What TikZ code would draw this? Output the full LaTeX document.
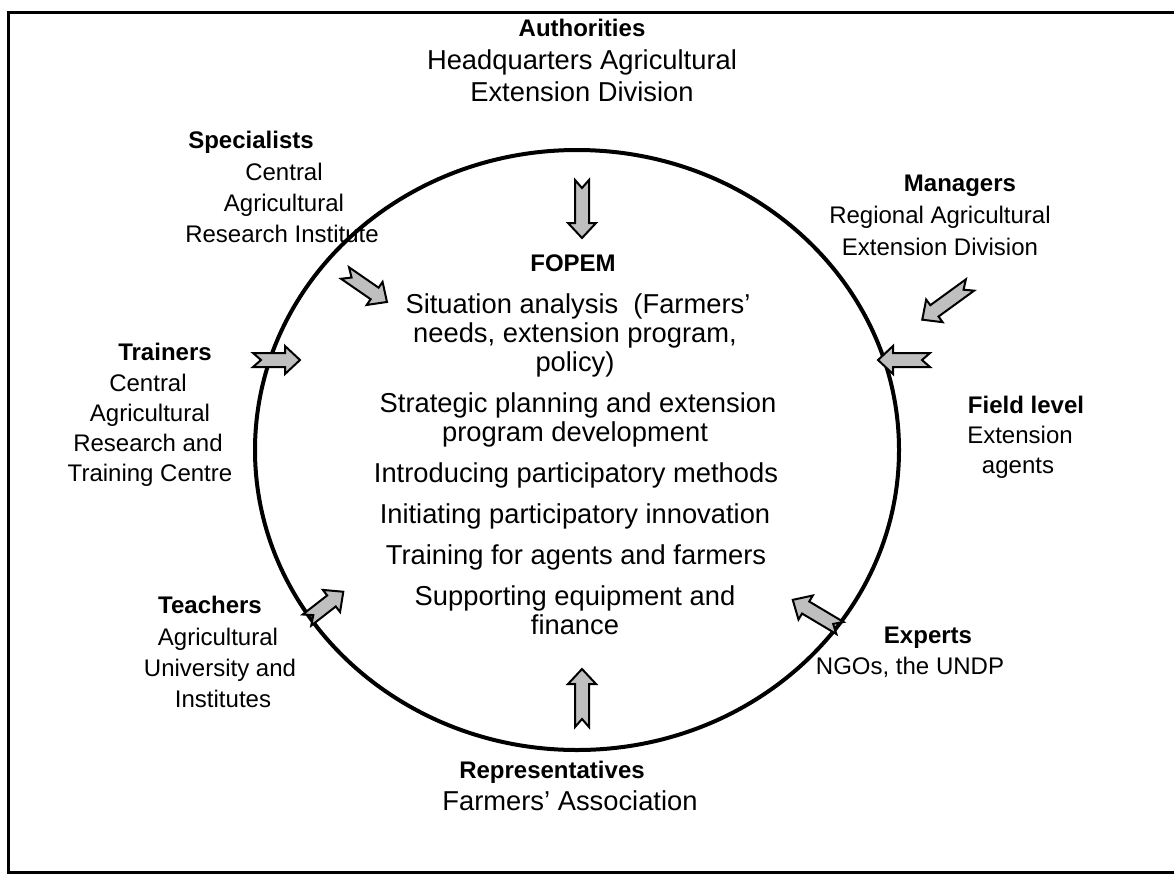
\documentclass[tikz,border=0pt]{standalone}
\usepackage{fontspec}
\setmainfont{Liberation Sans}
\begin{document}
\begin{tikzpicture}[x=0.75pt,y=-0.75pt,
 txt/.style={font=\fontsize{18}{21}\selectfont, inner sep=0pt, anchor=mid},
 ctxt/.style={font=\fontsize{20.5}{24}\selectfont, inner sep=0pt, anchor=mid},
 hd/.style={txt, font=\fontsize{18}{21}\selectfont\bfseries},
 blk/.style={draw=black, line width=1.5pt, fill=black!25, line join=miter},
 pics/barrow/.style={code={\draw[blk] (0,7) -- (#1-15,7) -- (#1-15,14) -- (#1,0) -- (#1-15,-14) -- (#1-15,-7) -- (0,-7) -- (8,0) -- cycle;}}
]
\useasboundingbox (0,0) rectangle (1174,875);
% frame
\draw[line width=2.25pt] (1176,12) -- (8,12) -- (8,872) -- (1176,872);
% ellipse
\draw[line width=3pt] (577,450) ellipse [x radius=322, y radius=300];

% Authorities
\node[hd]   (au1) at (582,33) {Authorities};
\node[ctxt] (au2) at (582,66) {Headquarters Agricultural};
\node[ctxt] (au3) at (582,98) {Extension Division};
% Specialists
\node[hd]  (sp1) at (251,145) {Specialists};
\node[txt] (sp2) at (284,177) {Central};
\node[txt] (sp3) at (284,208) {Agricultural};
\node[txt] (sp4) at (282,239) {Research Institute};
% Managers
\node[hd]  (ma1) at (960,188) {Managers};
\node[txt] (ma2) at (940,220) {Regional Agricultural};
\node[txt] (ma3) at (940,252) {Extension Division};
% Trainers
\node[hd]  (tr1) at (165,357) {Trainers};
\node[txt] (tr2) at (148,388) {Central};
\node[txt] (tr3) at (150,418) {Agricultural};
\node[txt] (tr4) at (148,448) {Research and};
\node[txt] (tr5) at (150,478) {Training Centre};
% Field level
\node[hd]  (fl1) at (1026,410) {Field level};
\node[txt] (fl2) at (1020,440) {Extension};
\node[txt] (fl3) at (1018,470) {agents};
% Teachers
\node[hd]  (te1) at (210,610) {Teachers};
\node[txt] (te2) at (218,642) {Agricultural};
\node[txt] (te3) at (220,673) {University and};
\node[txt] (te4) at (223,704) {Institutes};
% Experts
\node[hd]  (ex1) at (928,640) {Experts};
\node[txt] (ex2) at (910,671) {NGOs, the UNDP};
% Representatives
\node[hd]   (re1) at (552,775) {Representatives};
\node[ctxt] (re2) at (570,807) {Farmers’ Association};

% FOPEM centre
\node[hd]   (c0) at (573,268) {FOPEM};
\node[ctxt] (c1) at (578,310) {Situation analysis\ \ (Farmers’};
\node[ctxt] (c2) at (575,339) {needs, extension program,};
\node[ctxt] (c3) at (575,368) {policy)};
\node[ctxt] (c4) at (578,409) {Strategic planning and extension};
\node[ctxt] (c5) at (575,438) {program development};
\node[ctxt] (c6) at (576,479) {Introducing participatory methods};
\node[ctxt] (c7) at (575,520) {Initiating participatory innovation};
\node[ctxt] (c8) at (576,561) {Training for agents and farmers};
\node[ctxt] (c9) at (575,602) {Supporting equipment and};
\node[ctxt] (c10) at (575,631) {finance};

% block arrows (tail position, canvas angle, length)
\pic[rotate=-90]   at (582,180) {barrow=58};
\pic[rotate=-34.6] at (345,273) {barrow=51};
\pic[rotate=216]   at (970,285) {barrow=59};
\pic[rotate=0]     at (253,360) {barrow=47};
\pic[rotate=180]   at (930,360) {barrow=52};
\pic[rotate=37.9]  at (307,620) {barrow=46};
\pic[rotate=149.2] at (840,628) {barrow=55};
\pic[rotate=90]    at (582,727) {barrow=58};
\end{tikzpicture}
\end{document}
